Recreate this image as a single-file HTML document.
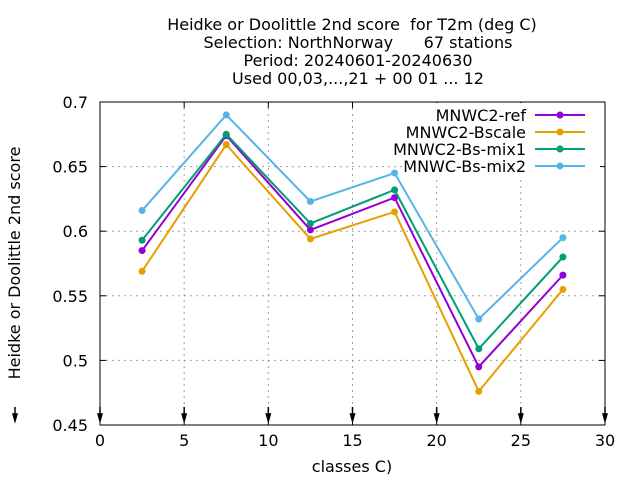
<!DOCTYPE html>
<html><head><meta charset="utf-8"><style>body{margin:0;background:#fff}svg{display:block;font-family:"DejaVu Sans","Liberation Sans",sans-serif}text{white-space:pre}</style></head>
<body>
<svg id="c" width="640" height="480">
<g font-size="16" text-anchor="middle" fill="#000">
<text x="352" y="30" xml:space="preserve">Heidke or Doolittle 2nd score  for T2m (deg C)</text>
<text x="358" y="48" xml:space="preserve">Selection: NorthNorway      67 stations</text>
<text x="358" y="66">Period: 20240601-20240630</text>
<text x="358" y="84">Used 00,03,...,21 + 00 01 ... 12</text>
</g>
<text x="20" y="263" font-size="16" text-anchor="middle" transform="rotate(-90 20 263)">Heidke or Doolittle 2nd score</text>
<text x="352" y="472" font-size="16" text-anchor="middle">classes C)</text>
<g id="g"></g>
</svg>
<script>
const xTicks=[0,5,10,15,20,25,30];
const yTicks=[0.45,0.5,0.55,0.6,0.65,0.7];
const yTickLabels=["0.45","0.5","0.55","0.6","0.65","0.7"];
const categories=[2.5,7.5,12.5,17.5,22.5,27.5];
const seriesNames=["MNWC2-ref","MNWC2-Bscale","MNWC2-Bs-mix1","MNWC-Bs-mix2"];
const seriesColors=["#9400d3","#e69f00","#009e73","#56b4e9"];
const ref=[0.585,0.674,0.601,0.626,0.495,0.566];
const bscale=[0.569,0.667,0.594,0.615,0.476,0.555];
const mix1=[0.593,0.675,0.606,0.632,0.509,0.580];
const mix2=[0.616,0.690,0.623,0.645,0.532,0.595];
const series=[ref,bscale,mix1,mix2];
const L=100,R=605,T=102,B=425;
const X=v=>L+(v-0)/30*(R-L);
const Y=v=>B-(v-0.45)/0.25*(B-T);
const g=document.getElementById('g');
const NS='http://www.w3.org/2000/svg';
function mk(t,a,p){const e=document.createElementNS(NS,t);for(const k in a)e.setAttribute(k,a[k]);(p||g).appendChild(e);return e;}
xTicks.forEach(v=>{
 if(v>0&&v<30){const l=mk('line',{x1:X(v),x2:X(v),y1:T,y2:B,stroke:'#a0a0a0','stroke-dasharray':'2,4'});}
 const t=mk('line',{x1:X(v),x2:X(v),y1:B,y2:B-6,stroke:'#000'});
 const t2=mk('line',{x1:X(v),x2:X(v),y1:T,y2:T+6,stroke:'#000'});
 const a=mk('path',{d:`M${X(v)} 407 V420 M${X(v)-2} 414 L${X(v)} 421 L${X(v)+2} 414Z`,stroke:'#000','stroke-width':1.5});
 const tx=mk('text',{x:X(v),y:B+21,'font-size':16,'text-anchor':'middle'});tx.textContent=v;
});
{const a=mk('path',{d:`M15 407 V420 M13 414 L15 421 L17 414Z`,stroke:'#000','stroke-width':1.5});}
yTicks.forEach((v,i)=>{
 if(i>0&&i<yTicks.length-1){const l=mk('line',{x1:L,x2:R,y1:Y(v),y2:Y(v),stroke:'#a0a0a0','stroke-dasharray':'2,4'});}
 const t=mk('line',{x1:L,x2:L+6,y1:Y(v),y2:Y(v),stroke:'#000'});
 const t2=mk('line',{x1:R,x2:R-6,y1:Y(v),y2:Y(v),stroke:'#000'});
 const tx=mk('text',{x:L-12,y:Y(v)+6,'font-size':16,'text-anchor':'end'});tx.textContent=yTickLabels[i];
});
const lb=mk('rect',{x:402,y:103,width:198,height:77,fill:'#fff'});
const box=mk('rect',{x:L,y:T,width:R-L,height:B-T,fill:'none',stroke:'#000'});

series.forEach((s,i)=>{
 const c=seriesColors[i];
 const sg=mk('g',{});
 const p=mk('polyline',{points:s.map((v,j)=>X(categories[j])+','+Y(v)).join(' '),fill:'none',stroke:c,'stroke-width':2},sg);
 
 s.forEach((v,j)=>{const m=mk('circle',{cx:X(categories[j]),cy:Y(v),r:3.5,fill:c},sg);});
 const ly=115+i*17;
 const le=mk('g',{});
 const tx=mk('text',{x:526,y:ly+6,'font-size':16,'text-anchor':'end'},le);tx.textContent=seriesNames[i];
 mk('line',{x1:535,x2:585,y1:ly,y2:ly,stroke:c,'stroke-width':2},le);
 mk('circle',{cx:560,cy:ly,r:3.5,fill:c},le);
});
</script>
</body></html>
